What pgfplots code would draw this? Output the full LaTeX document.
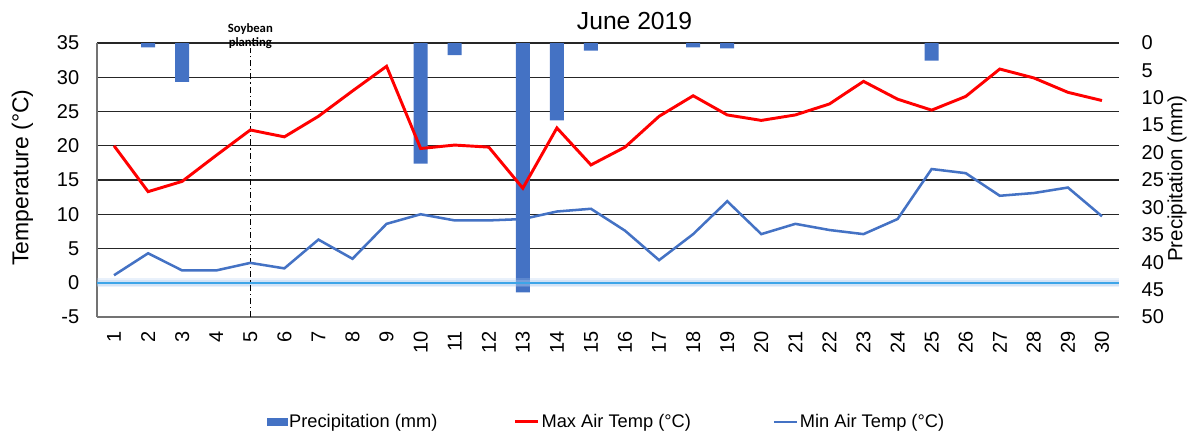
\documentclass[border=0pt]{standalone}
\usepackage{pgfplots}
\pgfplotsset{compat=1.18}
\usepackage{fontspec}
\setmainfont{Liberation Sans}
\newfontfamily\calibri{Carlito}
\definecolor{barblue}{HTML}{4472C4}
\definecolor{minblue}{HTML}{4472C4}
\definecolor{maxred}{HTML}{FF0000}
\definecolor{zeroblue}{HTML}{3DA5E8}
\definecolor{glowblue}{HTML}{A9C9EE}
\pgfplotsset{common/.style={scale only axis, width=766.5pt, height=205.5pt,
  at={(0,0)}, anchor=south west, xmin=0.5, xmax=30.5,
  /pgf/number format/assume math mode=true,
  tick style={draw=none}, major tick length=0pt,
  ticklabel style={font=\fontsize{15}{18}\selectfont}}}
\begin{document}
\begin{tikzpicture}
\useasboundingbox (-72.75pt,-90pt) rectangle (820.5pt,237.75pt);
% grid / temperature axis
\begin{axis}[common,
  ymin=-5, ymax=35, ytick={-5,0,5,10,15,20,25,30,35},
  yticklabels={-5,0,5,10,15,20,25,30,35},
  ymajorgrids, grid style={black!85, line width=0.9pt},
  axis x line*=bottom, axis y line*=left,
  axis line style={-, black!55, line width=0.9pt},
  xtick={1,...,30},
  xticklabel style={rotate=90, anchor=east},
  xticklabel shift=7pt, yticklabel shift=9.8pt,
  ylabel={Temperature (°C)},
  ylabel style={at={(axis description cs:-0.0729,0.509)}, anchor=center, font=\fontsize{17.2}{20}\selectfont},
  title={June 2019},
  title style={at={(axis description cs:0.526,1.052)}, anchor=center, font=\fontsize{18.5}{21}\selectfont},
]
\addplot[draw=none, forget plot] coordinates {(1,0)};
\end{axis}
% precipitation axis
\begin{axis}[common,
  ymin=0, ymax=50, y dir=reverse, ytick={0,5,...,50},
  axis x line=none, axis y line*=right,
  y axis line style={draw=none},
  yticklabel shift=13.5pt,
  ylabel={Precipitation (mm)},
  ylabel style={at={(axis description cs:1.0568,0.505)}, anchor=center, font=\fontsize{15.4}{18}\selectfont},
  ybar, bar width=10.5pt, bar shift=0pt,
]
\addplot[fill=barblue, draw=none] coordinates {
(2,0.8) (3,7.1) (10,22.0) (11,2.2) (13,45.5) (14,14.1) (15,1.4) (18,0.8) (19,1.0) (25,3.2)};
\end{axis}
% lines axis
\begin{axis}[common, hide axis, clip=false,
  ymin=-5, ymax=35,
  legend columns=3,
  legend style={at={(axis description cs:0.166,-0.383)}, anchor=west, draw=none, fill=none,
    inner sep=0pt, outer sep=0pt, font=\fontsize{13.7}{16}\selectfont,
    nodes={inner sep=1.5pt}, /tikz/every even column/.style={column sep=0pt}},
  legend cell align=left,
]
\addplot[forget plot, glowblue, line width=7pt, opacity=0.25] coordinates {(0.5,0) (30.5,0)};
\addplot[forget plot, glowblue, line width=4.5pt, opacity=0.35] coordinates {(0.5,0) (30.5,0)};
\addplot[forget plot, zeroblue, line width=1.3pt] coordinates {(0.5,0) (30.5,0)};
\addplot[forget plot, black, line width=1pt, dash pattern=on 4.5pt off 2.2pt on 1pt off 2.2pt] coordinates {(5,-5) (5,34.3)};
\addlegendimage{legend image code/.code={\fill[barblue] (0pt,-2.8pt) rectangle (15pt,2.8pt);}}
\addlegendentry{\makebox[167pt][l]{Precipitation (mm)}}
\addplot[maxred, line width=2.2pt] coordinates {
(1,20.0) (2,13.3) (3,14.8) (4,18.6) (5,22.3) (6,21.3) (7,24.3) (8,28.0) (9,31.6) (10,19.6)
(11,20.1) (12,19.8) (13,13.8) (14,22.6) (15,17.2) (16,19.8) (17,24.3) (18,27.3) (19,24.5) (20,23.7)
(21,24.5) (22,26.1) (23,29.4) (24,26.8) (25,25.2) (26,27.2) (27,31.2) (28,29.9) (29,27.8) (30,26.6)};
\addlegendentry{\makebox[171.75pt][l]{Max Air Temp (°C)}}
\addplot[minblue, line width=1.9pt] coordinates {
(1,1.1) (2,4.3) (3,1.8) (4,1.8) (5,2.9) (6,2.1) (7,6.3) (8,3.5) (9,8.6) (10,10.0)
(11,9.1) (12,9.1) (13,9.3) (14,10.4) (15,10.8) (16,7.6) (17,3.3) (18,7.1) (19,11.9) (20,7.1)
(21,8.6) (22,7.7) (23,7.1) (24,9.3) (25,16.6) (26,16.0) (27,12.7) (28,13.1) (29,13.9) (30,9.7)};
\addlegendentry{Min Air Temp (°C)}
\node[font=\calibri\bfseries\fontsize{9.5}{10.5}\selectfont, align=center, inner sep=0pt] at (axis cs:5,35) [yshift=5.5pt] {Soybean\\planting};
\end{axis}
\end{tikzpicture}
\end{document}
